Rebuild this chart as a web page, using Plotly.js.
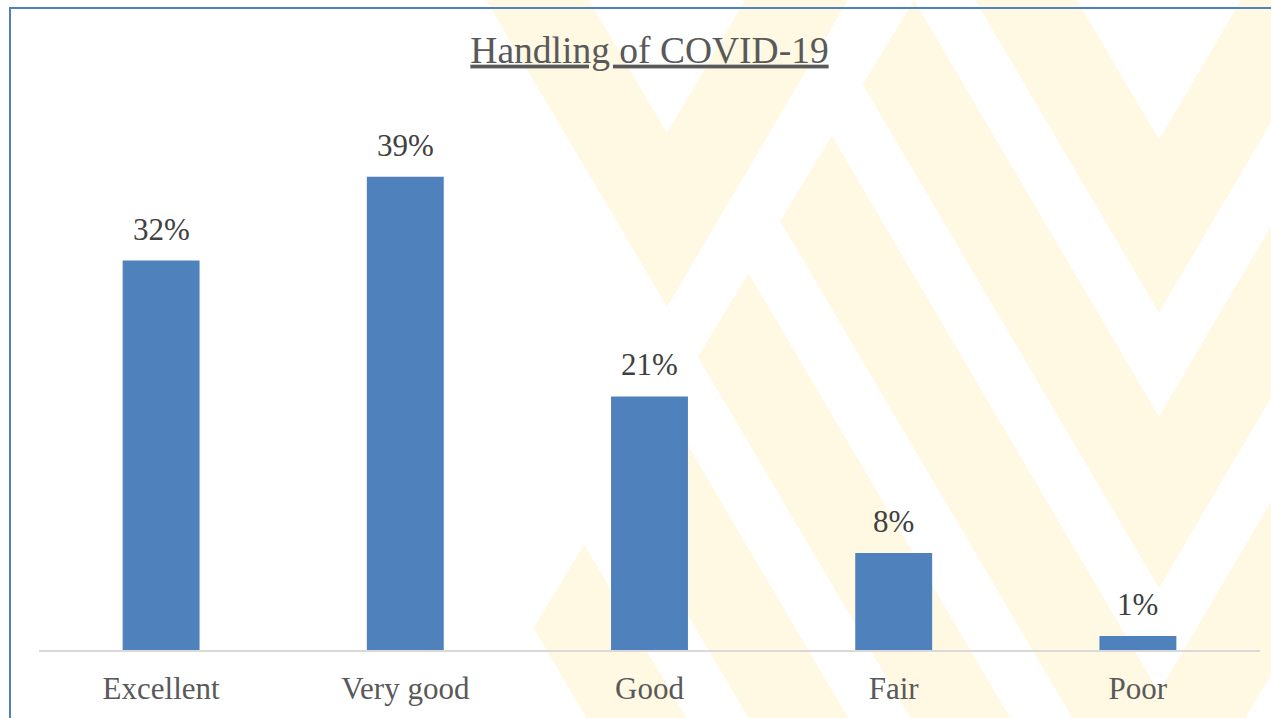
<!DOCTYPE html>
<html>
<head>
<meta charset="utf-8">
<script src="https://cdn.plot.ly/plotly-3.0.1.min.js"></script>
<style>
  html, body { margin: 0; padding: 0; width: 1271px; height: 718px; overflow: hidden; background: #ffffff; }
  #wm { position: absolute; left: 0; top: 0; z-index: 0; }
  #frame { position: absolute; left: 9px; top: 7px; width: 1400px; height: 900px; border: 2px solid #4F81BD; box-sizing: border-box; z-index: 1; }
  #chart { position: absolute; left: 0; top: 0; width: 1271px; height: 718px; z-index: 2; }
</style>
</head>
<body>
<svg id="wm" width="1271" height="718" xmlns="http://www.w3.org/2000/svg"></svg>
<div id="frame"></div>
<div id="chart"></div>
<script>
// ---- data ----
const categories = ["Excellent", "Very good", "Good", "Fair", "Poor"];
const shares = [0.321, 0.39, 0.209, 0.08, 0.0115];
const chartTitle = "Handling of COVID-19";

// ---- decorative watermark (pale diagonal stripes) ----
(function drawWatermark() {
  const svg = document.getElementById('wm');
  const NS = 'http://www.w3.org/2000/svg';
  const fill = '#FFF9E3';
  const k = 1.7;            // stripe steepness
  const add = (pts, clip) => {
    const p = document.createElementNS(NS, 'polygon');
    p.setAttribute('points', pts.map(q => q.join(',')).join(' '));
    p.setAttribute('fill', fill);
    if (clip) p.setAttribute('clip-path', 'url(#' + clip + ')');
    svg.appendChild(p);
  };
  const defs = document.createElementNS(NS, 'defs');
  const mkClip = (id, pts) => {
    const c = document.createElementNS(NS, 'clipPath');
    c.setAttribute('id', id);
    const p = document.createElementNS(NS, 'polygon');
    p.setAttribute('points', pts.map(q => q.join(',')).join(' '));
    c.appendChild(p);
    defs.appendChild(c);
  };
  const Lx = y => 914 - y / 1.65;
  mkClip('mid', [[Lx(-10), -10], [1159, -10], [1159, 730], [Lx(730), 730]]);
  mkClip('right', [[1159, -10], [1300, -10], [1300, 730], [1159, 730]]);
  svg.appendChild(defs);
  // left chevron
  add([[486, 0], [667, 307], [848, 0], [745, 0], [667, 133], [589, 0]]);
  const bands = [[164, 264], [326, 426], [488, 588], [650, 752], [813, 914], [975, 1077]];
  bands.forEach(([a, b]) => {
    const y0 = -100, y1 = 900;
    const pts = [[a + y0 / k, y0], [b + y0 / k, y0], [b + y1 / k, y1], [a + y1 / k, y1]];
    add(pts, 'mid');
    add(pts.map(([x, y]) => [2318 - x, y]), 'right');
  });
})();

// ---- chart ----
const serif = "'Liberation Serif', 'Times New Roman', Times, serif";
const labels = shares.map(v => Math.round(v * 100) + '%');

const trace = {
  type: 'bar',
  x: categories,
  y: shares,
  marker: { color: '#4F81BD', line: { width: 0 } },
  hoverinfo: 'none'
};

const annotations = categories.map((c, i) => ({
  x: c, y: shares[i], xref: 'x', yref: 'y',
  text: labels[i], showarrow: false,
  yanchor: 'bottom', yshift: 12,
  font: { family: serif, size: 31, color: '#404040' }
}));

const layout = {
  width: 1271, height: 718,
  margin: { l: 39, r: 11, t: 104, b: 68, pad: 0 },
  paper_bgcolor: 'rgba(0,0,0,0)',
  plot_bgcolor: 'rgba(0,0,0,0)',
  showlegend: false,
  bargap: 0.685,
  title: {
    text: '<u>' + chartTitle + '</u>',
    font: { family: serif, size: 37.5, color: '#595959' },
    xref: 'paper', x: 0.5, xanchor: 'center',
    yref: 'container', y: 0.931, yanchor: 'middle'
  },
  xaxis: {
    type: 'category',
    showline: true, linecolor: '#D9D9D9', linewidth: 1.5,
    ticks: '', showgrid: false, zeroline: false,
    tickfont: { family: serif, size: 31, color: '#595959' },
    ticklabelstandoff: 10,
    fixedrange: true
  },
  yaxis: {
    range: [0, 0.45],
    visible: false, showgrid: false, zeroline: false,
    fixedrange: true
  },
  annotations: annotations
};

Plotly.newPlot('chart', [trace], layout, { displayModeBar: false, staticPlot: true });
</script>
</body>
</html>
